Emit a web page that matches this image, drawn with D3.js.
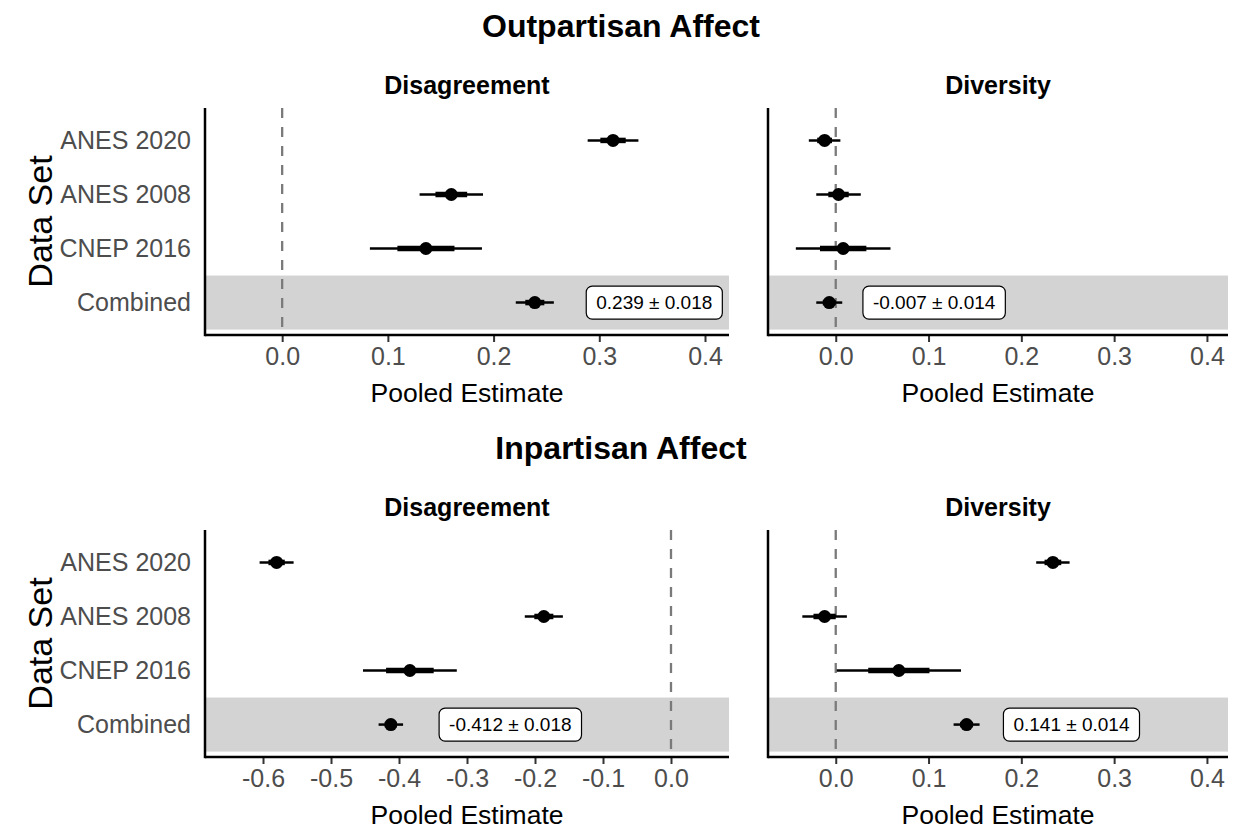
<!DOCTYPE html>
<html>
  <head>
    <title>Pooled estimates</title>
    <script src="https://d3js.org/d3.v7.min.js"></script>
    <style>
      body { margin: 0; background: white; }
      text { font-family: "Liberation Sans", Arial, sans-serif; }
    </style>
  </head>
  <body>
    <script>
        let width = 1233, height = 832;

        // data
        let datasets = ["ANES 2020", "ANES 2008", "CNEP 2016", "Combined"];

        let outDisEst = [0.313, 0.160, 0.136, 0.239];
        let outDisCi  = [0.024, 0.030, 0.053, 0.018];
        let outDisSe  = [0.012, 0.015, 0.027, 0.009];

        let outDivEst = [-0.012, 0.003, 0.008, -0.007];
        let outDivCi  = [0.017, 0.024, 0.051, 0.014];
        let outDivSe  = [0.008, 0.011, 0.025, 0.007];

        let inDisEst = [-0.580, -0.187, -0.384, -0.412];
        let inDisCi  = [0.025, 0.028, 0.069, 0.018];
        let inDisSe  = [0.012, 0.014, 0.035, 0.009];

        let inDivEst = [0.234, -0.012, 0.068, 0.141];
        let inDivCi  = [0.018, 0.024, 0.067, 0.014];
        let inDivSe  = [0.009, 0.012, 0.033, 0.007];

        let combinedLabels = ["0.239 ± 0.018", "-0.007 ± 0.014", "-0.412 ± 0.018", "0.141 ± 0.014"];

        let posTicks = [0, 0.1, 0.2, 0.3, 0.4];
        let negTicks = [-0.6, -0.5, -0.4, -0.3, -0.2, -0.1, 0];

        let rowTitles = ["Outpartisan Affect", "Inpartisan Affect"];
        let colTitles = ["Disagreement", "Diversity"];

        let fmt = d3.formatLocale({decimal: ".", thousands: ",", grouping: [3], currency: ["", ""], minus: "-"}).format(".1f");

        let svg = d3.select("body").append("svg")
                    .attr("width", width).attr("height", height);

        let rows = [{y0: 108, y1: 335}, {y0: 530, y1: 757}];
        let cols = [{x0: 205, x1: 729}, {x0: 768, x1: 1228}];

        let panels = [
            {r: 0, c: 0, est: outDisEst, ci: outDisCi, se: outDisSe, dom: [-0.073, 0.4227], ticks: posTicks, lab: combinedLabels[0]},
            {r: 0, c: 1, est: outDivEst, ci: outDivCi, se: outDivSe, dom: [-0.073, 0.4227], ticks: posTicks, lab: combinedLabels[1]},
            {r: 1, c: 0, est: inDisEst, ci: inDisCi, se: inDisSe, dom: [-0.6853, 0.0853], ticks: negTicks, lab: combinedLabels[2]},
            {r: 1, c: 1, est: inDivEst, ci: inDivCi, se: inDivSe, dom: [-0.073, 0.4227], ticks: posTicks, lab: combinedLabels[3]}
        ];

        // row titles
        rows.forEach(function(row, i){
            svg.append("text").attr("x", 621).attr("y", row.y0 - 71)
               .attr("text-anchor", "middle").style("font-size", "32px").style("font-weight", "bold")
               .text(rowTitles[i]);
            svg.append("text").attr("transform", "translate(52," + ((row.y0 + row.y1) / 2) + ") rotate(-90)")
               .attr("text-anchor", "middle").style("font-size", "34px")
               .text("Data Set");
        });

        panels.forEach(function(p){
            let row = rows[p.r], col = cols[p.c];
            let x = d3.scaleLinear().domain(p.dom).range([col.x0, col.x1]);
            let y = d3.scalePoint().domain(datasets).range([row.y0, row.y1]).padding(0.6);
            let step = y.step();
            let g = svg.append("g");

            // strip title
            g.append("text").attr("x", (col.x0 + col.x1) / 2).attr("y", row.y0 - 14)
             .attr("text-anchor", "middle").style("font-size", "25px").style("font-weight", "bold")
             .text(colTitles[p.c]);

            // shaded combined row
            g.append("rect").attr("x", col.x0).attr("width", col.x1 - col.x0)
             .attr("y", y("Combined") - step / 2).attr("height", step)
             .attr("fill", "#d3d3d3");

            // zero reference
            g.append("line").attr("x1", x(0)).attr("x2", x(0))
             .attr("y1", row.y0).attr("y2", row.y1)
             .attr("stroke", "#7a7a7a").attr("stroke-width", 2.3).attr("stroke-dasharray", "10,9");

            // x axis
            let ax = g.append("g").attr("transform", "translate(0," + row.y1 + ")")
                      .call(d3.axisBottom(x).tickValues(p.ticks).tickFormat(fmt).tickSize(7).tickPadding(5));
            ax.select(".domain").remove();
            ax.selectAll(".tick line").attr("stroke", "#333333").attr("stroke-width", 2);
            ax.selectAll(".tick text").attr("fill", "#4d4d4d").style("font-size", "25px")
              .style("font-family", "'Liberation Sans', Arial, sans-serif");

            g.append("text").attr("x", (col.x0 + col.x1) / 2).attr("y", row.y1 + 67)
             .attr("text-anchor", "middle").style("font-size", "26.5px").text("Pooled Estimate");

            // y axis labels only for the left column
            if (p.c === 0) {
                g.selectAll(".ylab").data(datasets).enter().append("text")
                 .attr("x", col.x0 - 14).attr("y", d => y(d)).attr("dy", "0.35em")
                 .attr("text-anchor", "end").attr("fill", "#4d4d4d").style("font-size", "25px")
                 .text(d => d);
            }

            // axis lines
            g.append("line").attr("x1", col.x0).attr("x2", col.x1).attr("y1", row.y1).attr("y2", row.y1)
             .attr("stroke", "black").attr("stroke-width", 2.5);
            g.append("line").attr("x1", col.x0).attr("x2", col.x0).attr("y1", row.y0).attr("y2", row.y1 + 1.2)
             .attr("stroke", "black").attr("stroke-width", 2.5);

            // point ranges
            let pts = datasets.map((d, i) => ({d: d, est: p.est[i], ci: p.ci[i], se: p.se[i]}));
            g.selectAll(".thin").data(pts).enter().append("line")
             .attr("x1", d => x(d.est - d.ci)).attr("x2", d => x(d.est + d.ci))
             .attr("y1", d => y(d.d)).attr("y2", d => y(d.d))
             .attr("stroke", "black").attr("stroke-width", 2.5);
            g.selectAll(".thick").data(pts).enter().append("line")
             .attr("x1", d => x(d.est - d.se)).attr("x2", d => x(d.est + d.se))
             .attr("y1", d => y(d.d)).attr("y2", d => y(d.d))
             .attr("stroke", "black").attr("stroke-width", 5.5);
            g.selectAll("circle").data(pts).enter().append("circle")
             .attr("cx", d => x(d.est)).attr("cy", d => y(d.d)).attr("r", 6.5).attr("fill", "black");

            // combined estimate label
            let cx = x(p.est[3]) + 0.228 * (col.x1 - col.x0), cy = y("Combined");
            let lg = g.append("g");
            let t = lg.append("text").attr("x", cx).attr("y", cy).attr("dy", "0.35em")
                      .attr("text-anchor", "middle").style("font-size", "19px").text(p.lab);
            let w = t.node().getComputedTextLength() + 20;
            lg.insert("rect", "text").attr("x", cx - w / 2).attr("y", cy - 16.5)
              .attr("width", w).attr("height", 33).attr("rx", 6)
              .attr("fill", "white").attr("stroke", "black").attr("stroke-width", 1.2);
        });
    </script>
  </body>
</html>
